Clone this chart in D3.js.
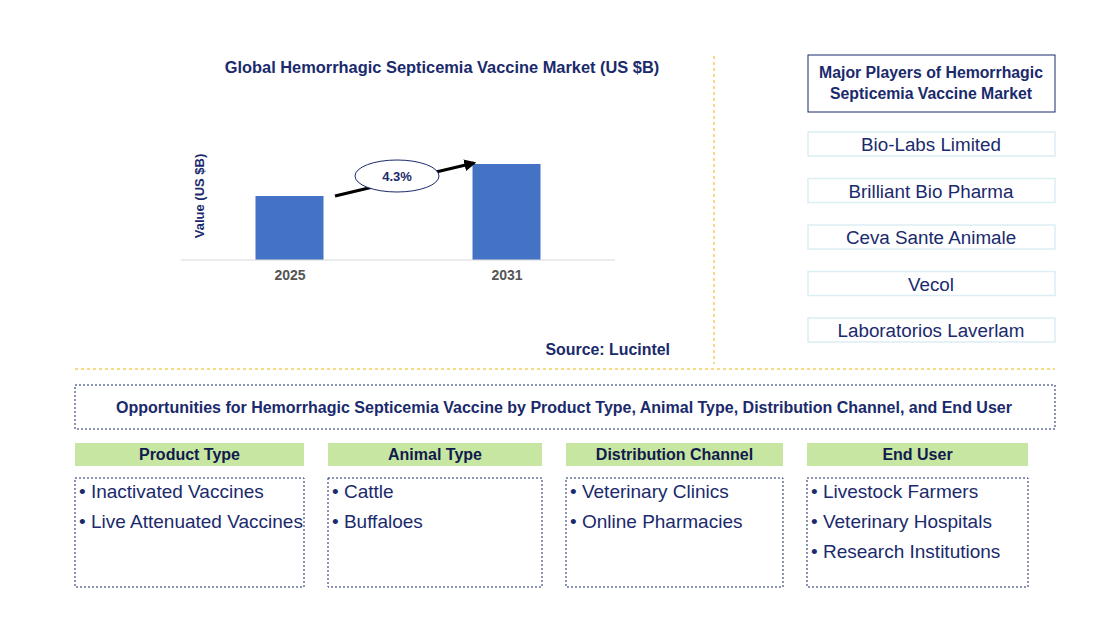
<!DOCTYPE html>
<html><head><meta charset="utf-8">
<script src="https://cdn.jsdelivr.net/npm/d3@7"></script>
<style>body{margin:0;background:#fff}</style></head>
<body><svg id="c" width="1120" height="628"></svg>
<script>
const years = ["2025","2031"];
const values = [0.8, 1.2];
const cagr = "4.3%";
const players = ["Bio-Labs Limited","Brilliant Bio Pharma","Ceva Sante Animale","Vecol","Laboratorios Laverlam"];
const segHeads = ["Product Type","Animal Type","Distribution Channel","End User"];
const segItems = [["Inactivated Vaccines","Live Attenuated Vaccines"],["Cattle","Buffaloes"],["Veterinary Clinics","Online Pharmacies"],["Livestock Farmers","Veterinary Hospitals","Research Institutions"]];

const svg = d3.select("#c");
const F = "'Liberation Sans', Arial, sans-serif";
const navy = "#1a2a6c";
svg.append("text").attr("x",442).attr("y",73).attr("text-anchor","middle").attr("font-family",F).attr("font-weight","bold").attr("font-size",16.4).attr("fill",navy).text("Global Hemorrhagic Septicemia Vaccine Market (US $B)");

const x = d3.scalePoint().domain(years).range([181,615]).padding(0.5);
const y = d3.scaleLinear().domain([0,1.2]).range([260,164]);
svg.selectAll("rect.bar").data(values).join("rect").attr("class","bar")
 .attr("x",(d,i)=>x(years[i])-34).attr("width",68).attr("y",d=>y(d)).attr("height",d=>260-y(d)).attr("fill","#4472c4");
const ax = svg.append("g").attr("transform","translate(0,260)").call(d3.axisBottom(x).tickSize(0).tickPadding(10));
ax.select(".domain").attr("stroke","#d9d9d9").attr("d","M181,0H615");
ax.selectAll("text").attr("font-family",F).attr("font-weight","bold").attr("font-size",14).attr("fill","#555");
svg.append("text").attr("transform","translate(204,196) rotate(-90)").attr("text-anchor","middle").attr("font-family",F).attr("font-weight","bold").attr("font-size",13).attr("fill",navy).text("Value (US $B)");

svg.append("defs").append("marker").attr("id","ah").attr("viewBox","0 0 10 10").attr("refX",8).attr("refY",5).attr("markerWidth",4).attr("markerHeight",4).attr("orient","auto").append("path").attr("d","M0,0L10,5L0,10z").attr("fill","#000");
svg.append("line").attr("x1",335).attr("y1",196).attr("x2",474).attr("y2",163).attr("stroke","#000").attr("stroke-width",3).attr("marker-end","url(#ah)");
svg.append("ellipse").attr("cx",397).attr("cy",176).attr("rx",42).attr("ry",16).attr("fill","#fff").attr("stroke","#1a2a6c").attr("stroke-width",1);
svg.append("text").attr("x",397).attr("y",181).attr("text-anchor","middle").attr("font-family",F).attr("font-weight","bold").attr("font-size",13).attr("fill",navy).text(cagr);
svg.append("text").attr("x",670).attr("y",355).attr("text-anchor","end").attr("font-family",F).attr("font-weight","bold").attr("font-size",15.9).attr("fill",navy).text("Source: Lucintel");

svg.append("line").attr("x1",714).attr("x2",714).attr("y1",56).attr("y2",364).attr("stroke","#f0b400").attr("stroke-dasharray","3,3");
svg.append("line").attr("x1",75).attr("x2",1055).attr("y1",369).attr("y2",369).attr("stroke","#f0b400").attr("stroke-dasharray","3,3");

svg.append("rect").attr("x",808).attr("y",55).attr("width",247).attr("height",57).attr("fill","#fff").attr("stroke","#1a2a6c");
svg.append("text").attr("x",931).attr("y",78).attr("text-anchor","middle").attr("font-family",F).attr("font-weight","bold").attr("font-size",15.8).attr("fill",navy).text("Major Players of Hemorrhagic");
svg.append("text").attr("x",931).attr("y",99).attr("text-anchor","middle").attr("font-family",F).attr("font-weight","bold").attr("font-size",15.8).attr("fill",navy).text("Septicemia Vaccine Market");
players.forEach((p,i)=>{
  const yy=132+i*46.5;
  svg.append("rect").attr("x",808).attr("y",yy).attr("width",247).attr("height",24).attr("fill","#fff").attr("stroke","#dbeef4").attr("stroke-width",1.5);
  svg.append("text").attr("x",931).attr("y",yy+19).attr("text-anchor","middle").attr("font-family",F).attr("font-size",18.8).attr("fill",navy).text(p);
});

svg.append("rect").attr("x",75).attr("y",385).attr("width",980).attr("height",44).attr("fill","none").attr("stroke","#1a2a6c").attr("stroke-dasharray","2,2");
svg.append("text").attr("x",564).attr("y",413).attr("text-anchor","middle").attr("font-family",F).attr("font-weight","bold").attr("font-size",16).attr("fill",navy).text("Opportunities for Hemorrhagic Septicemia Vaccine by Product Type, Animal Type, Distribution Channel, and End User");

const cols=[[75,229],[328,214],[566,217],[807,221]];
segHeads.forEach((h,i)=>{
  const [cx,w]=cols[i];
  svg.append("rect").attr("x",cx).attr("y",443).attr("width",w).attr("height",23).attr("fill","#c6e6a2");
  svg.append("text").attr("x",cx+w/2).attr("y",460).attr("text-anchor","middle").attr("font-family",F).attr("font-weight","bold").attr("font-size",16).attr("fill","#111a4c").text(h);
  svg.append("rect").attr("x",cx).attr("y",478).attr("width",w).attr("height",109).attr("fill","none").attr("stroke","#1a2a6c").attr("stroke-dasharray","2,2");
  segItems[i].forEach((t,j)=>{
    svg.append("text").attr("x",cx+4).attr("y",498+j*30).attr("font-family",F).attr("font-size",19).attr("fill",navy).text("• "+t);
  });
});
</script></body></html>
